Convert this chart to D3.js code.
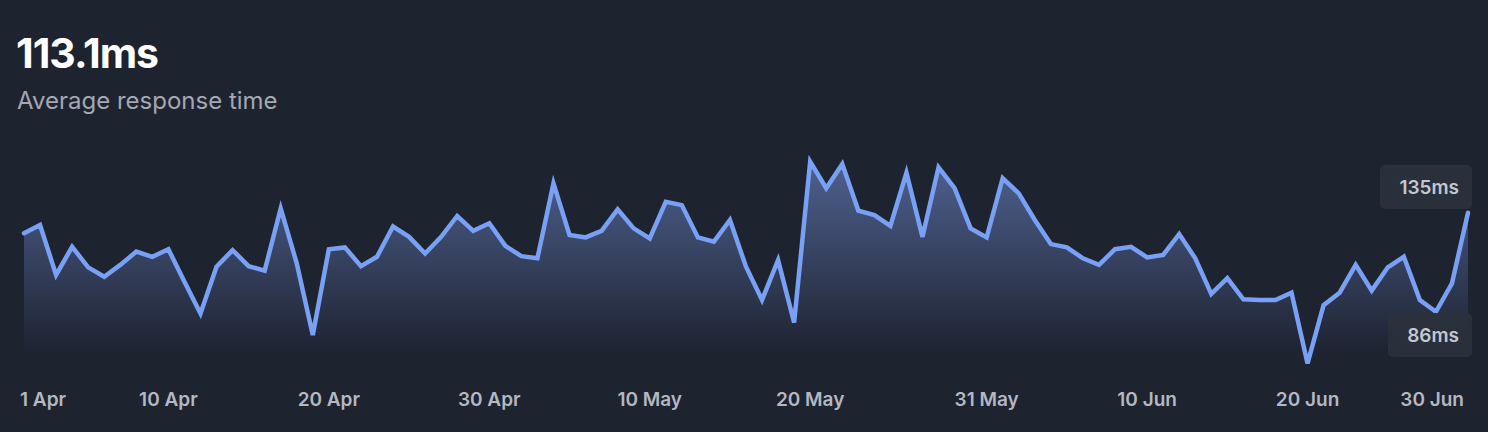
<!DOCTYPE html>
<html><head><meta charset="utf-8">
<script src="https://cdn.jsdelivr.net/npm/d3@7"></script>
<style>
html,body{margin:0;padding:0;background:#1e2330;}
svg{display:block;font-family:Inter,"Noto Sans",sans-serif;}
</style></head><body>
<svg id="c" width="1488" height="432"></svg>
<script>
const startDate = "2024-04-01";
const values = [119.7,122.4,105.9,115.2,108.4,105.3,109.2,113.6,111.9,114.4,103.6,93.1,108.6,114.1,108.8,107.3,127.9,109.7,86.0,114.4,
115.0,108.8,111.9,121.9,118.5,113.0,118.5,125.4,120.5,123.0,115.5,112.1,111.4,136.2,119.1,118.3,120.5,127.6,121.3,118.0,
130.1,129.0,118.3,116.9,124.1,108.6,97.6,110.8,90.1,143.4,134.6,142.6,127.2,125.7,122.1,139.7,118.5,141.5,134.6,121.3,
118.3,137.9,132.9,124.1,116.1,115.0,111.4,109.2,114.4,115.2,111.7,112.5,119.4,111.4,99.6,104.8,97.8,97.6,97.6,100.0,
76.6,95.9,100.0,109.2,100.7,108.4,111.9,97.6,93.7,103.1,126.5];
const tickDates = ["2024-04-01","2024-04-10","2024-04-20","2024-04-30","2024-05-10","2024-05-20","2024-05-31","2024-06-10","2024-06-20","2024-06-30"];
const tickLabels = ["1 Apr","10 Apr","20 Apr","30 Apr","10 May","20 May","31 May","10 Jun","20 Jun","30 Jun"];
const badgeValues = [135, 86];
const headline = "113.1ms";
const subtitle = "Average response time";

const parse = d3.utcParse("%Y-%m-%d");
const t0 = parse(startDate);
const data = values.map((v,i)=>({t:d3.utcDay.offset(t0,i), v}));

const svg = d3.select("#c");
const x = d3.scaleUtc().domain([t0, data[data.length-1].t]).range([24,1468]);
const y = d3.scaleLinear().domain([135,86]).range([187,335]);
const baseY = 353;

const defs = svg.append("defs");
const g = defs.append("linearGradient").attr("id","fillg").attr("x1",0).attr("x2",0).attr("y1",0).attr("y2",1)
  .attr("gradientUnits","userSpaceOnUse").attr("y1",160).attr("y2",353);
g.append("stop").attr("offset","0%").attr("stop-color","#4f6190").attr("stop-opacity",1);
g.append("stop").attr("offset","100%").attr("stop-color","#1e2330").attr("stop-opacity",1);

svg.append("path").datum(data).attr("fill","url(#fillg)")
  .attr("d", d3.area().x(d=>x(d.t)).y0(baseY).y1(d=>y(d.v)));
svg.append("path").datum(data).attr("fill","none").attr("stroke","#78a0f5").attr("stroke-width",4.5)
  .attr("stroke-linejoin","miter").attr("stroke-linecap","round")
  .attr("d", d3.line().x(d=>x(d.t)).y(d=>y(d.v)));

svg.append("text").attr("x",16).attr("y",68).attr("fill","#ffffff").attr("font-size",41).attr("font-weight",700)
  .attr("letter-spacing","-1").text(headline);
svg.append("text").attr("x",17).attr("y",109).attr("fill","#a3a8b3").attr("font-size",24).text(subtitle);

// badges
const badgePos = [{v:135, cy:187, x0:1380}, {v:86, cy:335, x0:1388}];
badgePos.forEach((b,i)=>{
  const val = badgeValues[i];
  const cy = y(val);
  const gg = svg.append("g");
  gg.append("rect").attr("x",b.x0).attr("y",cy-22).attr("width",1472-b.x0).attr("height",44).attr("rx",5).attr("fill","#2a303c").attr("opacity",0.95);
  gg.append("text").attr("x",1459).attr("y",cy+7).attr("text-anchor","end").attr("fill","#c3c7cf")
    .attr("font-size",19).attr("font-weight",600).text(val+"ms");
});

// x ticks
const tg = svg.append("g");
tickDates.forEach((d,i)=>{
  let cx = x(parse(d));
  const txt = tg.append("text").attr("y",406).attr("fill","#b4b8c1").attr("font-size",19).attr("font-weight",600).text(tickLabels[i]);
  const w = txt.node().getComputedTextLength();
  let left = cx - w/2;
  if (left < 20) left = 20;
  if (left + w > 1464) left = 1464 - w;
  txt.attr("x", left);
});
</script></body></html>
